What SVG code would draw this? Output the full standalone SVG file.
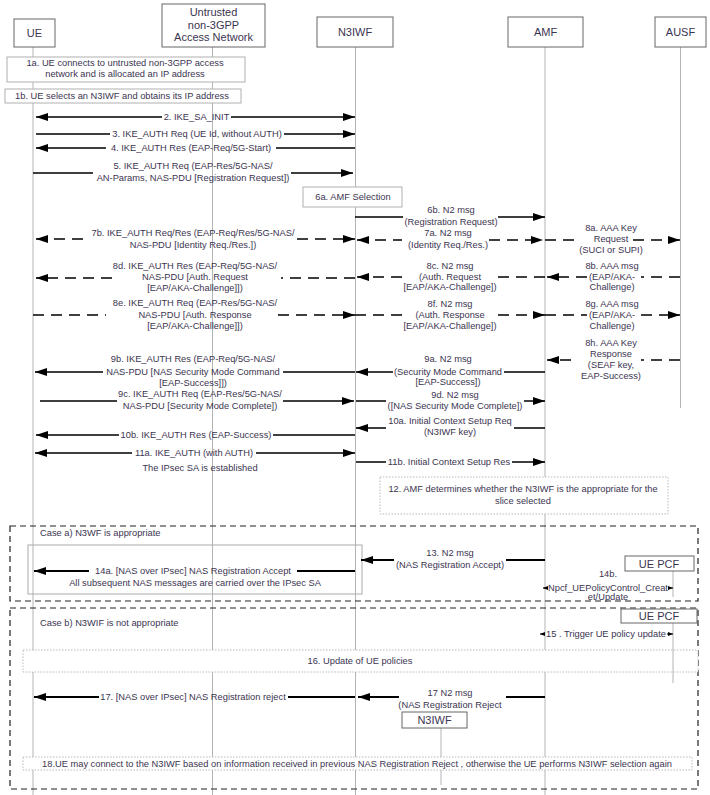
<svg xmlns="http://www.w3.org/2000/svg" width="710" height="795" viewBox="0 0 710 795">
<style>
text{font-family:"Liberation Sans",Arial,sans-serif;font-size:9.3px;fill:#3b3450;text-anchor:middle}
.h{font-size:11px}
.l{text-anchor:start}
.box{fill:#fff;stroke:#666;stroke-width:1}
.life{stroke:#b4b4b4;stroke-width:1;fill:none}
.note{fill:#fff;stroke:#b0b0b0;stroke-width:1}
.dot{fill:#fff;stroke:#a8a8a8;stroke-width:0.8;stroke-dasharray:1.5 1.5}
.frame{fill:none;stroke:#222;stroke-width:1.2;stroke-dasharray:6 4}
.m{fill:none;stroke:#000;stroke-width:1.5}
.b{stroke-width:2}
.d{stroke-dasharray:11 7;stroke-width:1.7}
.e{marker-end:url(#ah)}
.s{marker-start:url(#ah)}
.se{marker-start:url(#sh);marker-end:url(#sh);stroke-width:1}
</style>
<defs>
<marker id="ah" viewBox="0 0 12 8" refX="12" refY="4" markerWidth="12" markerHeight="8" markerUnits="userSpaceOnUse" orient="auto-start-reverse"><path d="M0,0 L12,4 L0,8 z" fill="#000"/></marker>
<marker id="sh" viewBox="0 0 5 4" refX="5" refY="2" markerWidth="5" markerHeight="4" markerUnits="userSpaceOnUse" orient="auto-start-reverse"><path d="M0,0 L5,2 L0,4 z" fill="#000"/></marker>
</defs>
<rect width="710" height="795" fill="#fff"/>

<g id="node-UE"><line class="life" x1="33" y1="47" x2="33" y2="795"/><rect class="box" x="14" y="19" width="41" height="28"/><text class="h" x="34.5" y="37">UE</text></g>
<g id="node-Untrusted"><line class="life" x1="212.5" y1="47" x2="212.5" y2="795"/><rect class="box" x="162" y="4" width="103" height="43"/><text class="h" x="213.5" y="16">Untrusted</text><text class="h" x="213.5" y="29">non-3GPP</text><text class="h" x="213.5" y="41">Access Network</text></g>
<g id="node-N3IWF"><line class="life" x1="355.5" y1="47" x2="355.5" y2="795"/><rect class="box" x="317" y="17" width="76" height="30"/><text class="h" x="355" y="36">N3IWF</text></g>
<g id="node-AMF"><line class="life" x1="545" y1="47" x2="545" y2="795"/><rect class="box" x="508" y="17" width="75" height="30"/><text class="h" x="545.5" y="36">AMF</text></g>
<g id="node-AUSF"><line class="life" x1="680.5" y1="47" x2="680.5" y2="408"/><rect class="box" x="655" y="17" width="51" height="30"/><text class="h" x="680.5" y="36">AUSF</text></g>

<g id="frame-case-a"><rect class="frame" x="10" y="526" width="688" height="75"/><text class="l" x="40" y="536">Case a) N3WF is appropriate</text><rect x="28" y="545" width="334" height="49" fill="none" stroke="#aaa" stroke-width="1"/></g>
<g id="frame-case-b"><rect class="frame" x="10" y="608" width="688" height="181"/><text class="l" x="40" y="626">Case b) N3WIF is not appropriate</text></g>

<g id="note-1a"><rect class="note" x="7" y="57" width="238" height="25"/><text x="125" y="66">1a. UE connects to untrusted non-3GPP access</text><text x="125" y="77">network and is allocated an IP address</text></g>
<g id="note-1b"><rect class="note" x="5" y="89" width="236" height="14"/><text x="122" y="99">1b. UE selects an N3IWF and obtains its IP address</text></g>
<g id="note-6a"><rect class="note" x="303" y="187" width="99" height="20"/><text x="353" y="200">6a. AMF Selection</text></g>
<g id="note-12"><rect class="dot" x="380" y="477" width="288" height="37"/><text x="523" y="492">12. AMF determines whether the N3IWF is the appropriate for the</text><text x="523" y="504">slice selected</text></g>
<g id="note-16"><rect class="dot" x="23" y="650" width="675" height="22"/><text x="360" y="664">16. Update of UE policies</text></g>

<g id="node-UEPCF-a"><line class="life" x1="673" y1="571" x2="673" y2="597"/><rect class="box" x="625" y="556" width="69" height="15"/><text class="h" x="659" y="567.5">UE PCF</text></g>
<g id="node-UEPCF-b"><line class="life" x1="673" y1="623" x2="673" y2="683"/><rect class="box" x="621" y="609" width="76" height="14"/><text class="h" x="659" y="620">UE PCF</text></g>
<g id="node-N3IWF-2"><line class="life" x1="441" y1="728" x2="441" y2="785"/><rect class="box" x="402" y="712" width="65" height="16"/><text class="h" x="434.5" y="724">N3IWF</text></g>
<g id="note-18"><rect class="dot" x="23" y="757" width="669" height="13"/><text x="357" y="766.5">18.UE may connect to the N3IWF based on information received in previous NAS Registration Reject , otherwise the UE performs N3IWF selection again</text></g>

<g id="connectors">
<path class="m s e" d="M36,117 L162,117 M231,117 L355,117"/>
<path class="m e" d="M36,134 L110,134 M284,134 L355,134"/>
<path class="m e" d="M355,148 L276,148 M106,148 L36,148"/>
<path class="m e" d="M33,173 L93,173 M291,173 L353,173"/>
<path class="m e" d="M355,217 L403,217 M498,217 L545,217"/>
<path class="m d s e" d="M36,239 L89,239 M297,239 L355,239"/>
<path class="m d s e" d="M357,240 L402,240 M489,240 L543,240"/>
<path class="m d e" d="M545,240 L577,240 M633,240 L680,240"/>
<path class="m d e" d="M680,277 L641,277 M587,277 L547,277"/>
<path class="m d e" d="M545,277 L498,277 M402,277 L357,277"/>
<path class="m d e" d="M355,278 L281,278 M112,278 L36,278"/>
<path class="m d e" d="M33,315 L106,315 M278,315 L355,315"/>
<path class="m d e" d="M355,315 L402,315 M498,315 L545,315"/>
<path class="m d e" d="M545,315 L587,315 M641,315 L680,315"/>
<path class="m d e" d="M680,360 L641,360 M571,360 L547,360"/>
<path class="m e" d="M545,372 L504,372 M393,372 L356,372"/>
<path class="m e" d="M355,372 L283,372 M103,372 L35,372"/>
<path class="m e" d="M40,401 L117,401 M283,401 L354,401"/>
<path class="m e" d="M356,401 L386,401 M524,401 L545,401"/>
<path class="m e" d="M545,428 L514,428 M386,428 L356,428"/>
<path class="m e" d="M355,435 L273,435 M119,435 L36,435"/>
<path class="m s e" d="M35,453 L132,453 M256,453 L355,453"/>
<path class="m e" d="M356,462 L386,462 M512,462 L545,462"/>
<path class="m b e" d="M545,560 L506,560 M394,560 L361,560"/>
<path class="m b e" d="M355,571 L297,571 M89,571 L34,571"/>
<path class="m se" d="M543,588 L547,588 M669,588 L673,588"/>
<path class="m se" d="M540,634 L545,634 M667,634 L673,634"/>
<path class="m b e" d="M545,697 L506,697 M399,697 L358,697"/>
<path class="m b e" d="M355,697 L288,697 M99,697 L34,697"/>

<text x="196.5" y="120">2. IKE_SA_INIT</text>
<text x="197" y="137">3. IKE_AUTH Req (UE Id, without AUTH)</text>
<text x="191" y="151">4. IKE_AUTH Res (EAP-Req/5G-Start)</text>
<text x="193" y="169">5. IKE_AUTH Req (EAP-Res/5G-NAS/</text>
<text x="193" y="181">AN-Params, NAS-PDU [Registration Request])</text>
<text x="451" y="213">6b. N2 msg</text>
<text x="451" y="225">(Registration Request)</text>
<text x="193" y="236">7b. IKE_AUTH Req/Res (EAP-Req/Res/5G-NAS/</text>
<text x="193" y="248">NAS-PDU [Identity Req./Res.])</text>
<text x="448" y="236">7a. N2 msg</text>
<text x="448" y="248">(Identity Req./Res.)</text>
<text x="611" y="231">8a. AAA Key</text>
<text x="611" y="242">Request</text>
<text x="611" y="253">(SUCI or SUPI)</text>
<text x="612" y="269">8b. AAA msg</text>
<text x="612" y="280">(EAP/AKA-</text>
<text x="612" y="290">Challenge)</text>
<text x="450" y="269">8c. N2 msg</text>
<text x="450" y="280">(Auth. Request</text>
<text x="450" y="290">[EAP/AKA-Challenge])</text>
<text x="195" y="269">8d. IKE_AUTH Res (EAP-Req/5G-NAS/</text>
<text x="195" y="280">NAS-PDU [Auth. Request</text>
<text x="195" y="291">[EAP/AKA-Challenge]])</text>
<text x="195" y="306">8e. IKE_AUTH Req (EAP-Res/5G-NAS/</text>
<text x="195" y="318">NAS-PDU [Auth. Response</text>
<text x="195" y="329">[EAP/AKA-Challenge]])</text>
<text x="450" y="307">8f. N2 msg</text>
<text x="450" y="318">(Auth. Response</text>
<text x="450" y="329">[EAP/AKA-Challenge])</text>
<text x="612" y="307">8g. AAA msg</text>
<text x="612" y="318">(EAP/AKA-</text>
<text x="612" y="329">Challenge)</text>
<text x="611" y="346">8h. AAA Key</text>
<text x="611" y="357">Response</text>
<text x="611" y="368">(SEAF key,</text>
<text x="611" y="379">EAP-Success)</text>
<text x="448" y="362">9a. N2 msg</text>
<text x="448" y="375">(Security Mode Command</text>
<text x="448" y="385">[EAP-Success])</text>
<text x="193" y="362">9b. IKE_AUTH Res (EAP-Req/5G-NAS/</text>
<text x="193" y="375">NAS-PDU [NAS Security Mode Command</text>
<text x="193" y="386">[EAP-Success]])</text>
<text x="200" y="397">9c. IKE_AUTH Req (EAP-Res/5G-NAS/</text>
<text x="200" y="409">NAS-PDU [Security Mode Complete])</text>
<text x="455" y="398">9d. N2 msg</text>
<text x="455" y="409">([NAS Security Mode Complete])</text>
<text x="450" y="424">10a. Initial Context Setup Req</text>
<text x="450" y="435">(N3IWF key)</text>
<text x="196" y="438">10b. IKE_AUTH Res (EAP-Success)</text>
<text x="194" y="456">11a. IKE_AUTH (with AUTH)</text>
<text x="200" y="471">The IPsec SA is established</text>
<text x="449" y="465">11b. Initial Context Setup Res</text>
<text x="450" y="556">13. N2 msg</text>
<text x="450" y="568">(NAS Registration Accept)</text>
<text x="193" y="574">14a. [NAS over IPsec] NAS Registration Accept</text>
<text x="195" y="586">All subsequent NAS messages are carried over the IPsec SA</text>
<text x="608" y="577">14b.</text>
<text x="608" y="591">Npcf_UEPolicyControl_Creat</text>
<text x="608" y="600">et/Update</text>
<text x="606" y="637">15 . Trigger UE policy update</text>
<text x="450" y="696">17 N2 msg</text>
<text x="450" y="708">(NAS Registration Reject</text>
<text x="193" y="700">17. [NAS over IPsec] NAS Registration reject</text>
</g>
</svg>
